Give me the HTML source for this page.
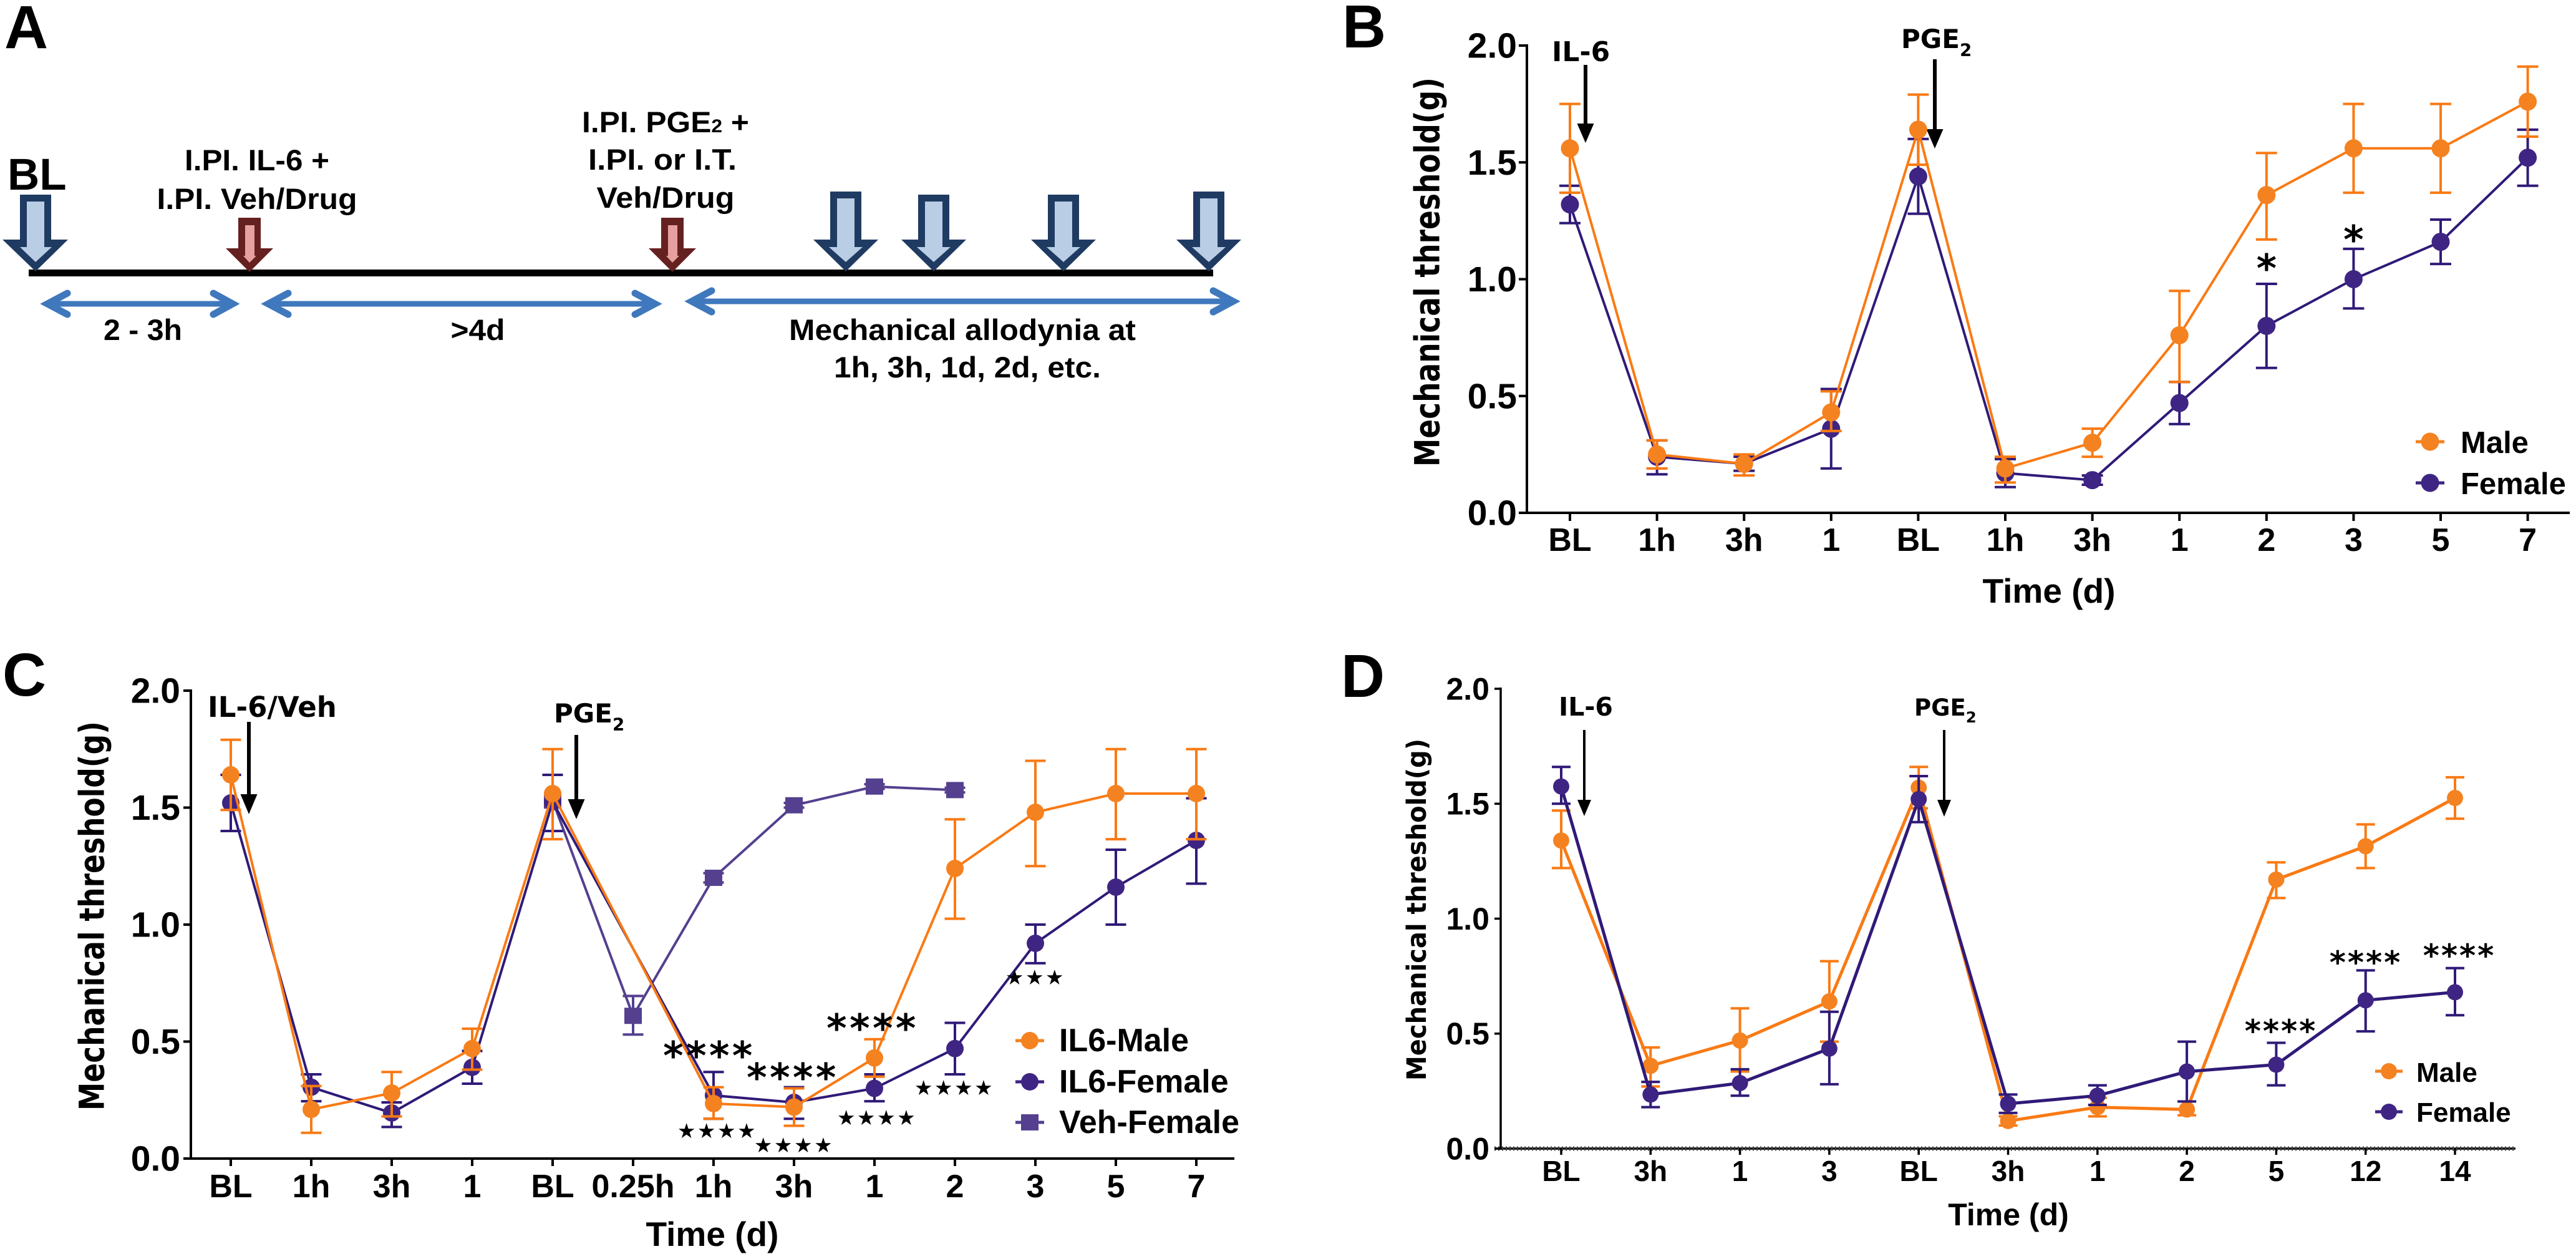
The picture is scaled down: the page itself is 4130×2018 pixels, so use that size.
<!DOCTYPE html>
<html lang="en">
<head>
<meta charset="utf-8">
<title>Mechanical threshold after IL-6 and PGE2 priming</title>
<style>
html,body{margin:0;padding:0;background:#fff;width:4130px;height:2018px;overflow:hidden}
svg{display:block}
text{font-family:"Liberation Sans",Arial,sans-serif;font-weight:bold;fill:#000}
</style>
</head>
<body>
<svg id="figure" xmlns="http://www.w3.org/2000/svg" width="4130" height="2018" viewBox="0 0 4130 2018">
<rect x="0" y="0" width="4130" height="2018" fill="#fff"/>
<g id="panel-a">
<text x="7" y="77" font-size="97">A</text>
<text x="12" y="304" font-size="71">BL</text>
<rect x="46" y="432" width="1899" height="11" fill="#000"/>
<g>
<polygon points="32,312 82,312 82,384 109,384 57,435 4,384 32,384" fill="#1f3b62"/>
<polygon points="43,323 71,323 71,396 83,396 57,420 32,396 43,396" fill="#b9cde5"/>
</g>
<g>
<polygon points="382,349 418,349 418,398 438,398 400,436 362,398 382,398" fill="#652120"/>
<polygon points="393,361 408,361 408,410 411,410 400,421 390,410 393,410" fill="#e6a0a0"/>
</g>
<g>
<polygon points="1060,349 1096,349 1096,398 1116,398 1078,436 1040,398 1060,398" fill="#652120"/>
<polygon points="1071,361 1086,361 1086,410 1089,410 1078,421 1068,410 1071,410" fill="#e6a0a0"/>
</g>
<g>
<polygon points="1331,307 1381,307 1381,384 1408,384 1356,435 1304,384 1331,384" fill="#1f3b62"/>
<polygon points="1342,318 1370,318 1370,396 1383,396 1356,420 1329,396 1342,396" fill="#b9cde5"/>
</g>
<g>
<polygon points="1472,312 1522,312 1522,384 1549,384 1497,435 1445,384 1472,384" fill="#1f3b62"/>
<polygon points="1483,323 1511,323 1511,396 1524,396 1497,420 1470,396 1483,396" fill="#b9cde5"/>
</g>
<g>
<polygon points="1680,312 1730,312 1730,384 1757,384 1705,435 1653,384 1680,384" fill="#1f3b62"/>
<polygon points="1691,323 1719,323 1719,396 1732,396 1705,420 1678,396 1691,396" fill="#b9cde5"/>
</g>
<g>
<polygon points="1913,307 1963,307 1963,384 1990,384 1938,435 1886,384 1913,384" fill="#1f3b62"/>
<polygon points="1924,318 1952,318 1952,396 1965,396 1938,420 1911,396 1924,396" fill="#b9cde5"/>
</g>
<g fill="none" stroke="#3f78bd">
<line x1="76" y1="487" x2="373" y2="487" stroke-width="9"/>
<polyline points="108,470 76,487 108,504" stroke-width="11" stroke-linecap="round"/>
<polyline points="342,470 373,487 342,504" stroke-width="11" stroke-linecap="round"/>
</g>
<g fill="none" stroke="#3f78bd">
<line x1="430" y1="487" x2="1050" y2="487" stroke-width="9"/>
<polyline points="462,470 430,487 462,504" stroke-width="11" stroke-linecap="round"/>
<polyline points="1018,470 1050,487 1018,504" stroke-width="11" stroke-linecap="round"/>
</g>
<g fill="none" stroke="#3f78bd">
<line x1="1109" y1="483" x2="1977" y2="483" stroke-width="9"/>
<polyline points="1141,466 1109,483 1141,500" stroke-width="11" stroke-linecap="round"/>
<polyline points="1945,466 1977,483 1945,500" stroke-width="11" stroke-linecap="round"/>
</g>
<g text-anchor="middle" font-size="47">
<text x="412" y="273" textLength="232" lengthAdjust="spacingAndGlyphs">I.PI. IL-6 +</text>
<text x="412" y="335" textLength="321" lengthAdjust="spacingAndGlyphs">I.PI. Veh/Drug</text>
<text x="1067" y="212" textLength="268" lengthAdjust="spacingAndGlyphs">I.PI. PGE<tspan font-size="30">2</tspan> +</text>
<text x="1062" y="272" textLength="238" lengthAdjust="spacingAndGlyphs">I.PI. or I.T.</text>
<text x="1067" y="333" textLength="221" lengthAdjust="spacingAndGlyphs">Veh/Drug</text>
<text x="229" y="545" textLength="126" lengthAdjust="spacingAndGlyphs">2 - 3h</text>
<text x="766" y="545" textLength="87" lengthAdjust="spacingAndGlyphs">&gt;4d</text>
<text x="1543" y="545" textLength="556" lengthAdjust="spacingAndGlyphs">Mechanical allodynia at</text>
<text x="1551" y="605" textLength="428" lengthAdjust="spacingAndGlyphs">1h, 3h, 1d, 2d, etc.</text>
</g>
</g>
</svg>
<script>
/* Shared axis ticks */
const yTickValues = [0, 0.5, 1, 1.5, 2];
const yTickLabels = ['0.0', '0.5', '1.0', '1.5', '2.0'];

/* Panel B data */
const panelBCategories = ['BL','1h','3h','1','BL','1h','3h','1','2','3','5','7'];
const panelBMale = [1.56,0.25,0.21,0.43,1.64,0.19,0.30,0.76,1.36,1.56,1.56,1.76];
const panelBMaleUpper = [1.75,0.31,0.25,0.52,1.79,0.24,0.36,0.95,1.54,1.75,1.75,1.91];
const panelBMaleLower = [1.37,0.19,0.16,0.35,1.49,0.13,0.24,0.56,1.17,1.37,1.37,1.61];
const panelBFemale = [1.32,0.24,0.21,0.36,1.44,0.17,0.14,0.47,0.80,1.00,1.16,1.52];
const panelBFemaleUpper = [1.40,0.31,0.24,0.53,1.60,0.23,0.16,0.56,0.98,1.13,1.255,1.64];
const panelBFemaleLower = [1.24,0.165,0.18,0.19,1.28,0.11,0.12,0.38,0.62,0.875,1.065,1.40];

/* Panel C data */
const panelCCategories = ['BL','1h','3h','1','BL','0.25h','1h','3h','1','2','3','5','7'];
const panelCMale = [1.64,0.21,0.28,0.47,1.56,null,0.235,0.22,0.43,1.24,1.48,1.56,1.56];
const panelCMaleUpper = [1.79,0.31,0.37,0.555,1.75,null,0.305,0.30,0.51,1.45,1.70,1.75,1.75];
const panelCMaleLower = [1.49,0.11,0.18,0.38,1.365,null,0.17,0.14,0.35,1.025,1.25,1.365,1.365];
const panelCFemale = [1.52,0.305,0.195,0.39,1.525,null,0.27,0.24,0.30,0.47,0.92,1.16,1.36];
const panelCFemaleUpper = [1.64,0.36,0.24,0.46,1.64,null,0.37,0.305,0.36,0.58,1.00,1.32,1.54];
const panelCFemaleLower = [1.40,0.245,0.135,0.32,1.40,null,0.17,0.17,0.245,0.36,0.835,1.00,1.175];
const panelCVehicle = [null,null,null,null,1.53,0.61,1.20,1.51,1.59,1.575,null,null,null];
const panelCVehicleUpper = [null,null,null,null,null,0.695,1.22,1.52,1.60,1.585,null,null,null];
const panelCVehicleLower = [null,null,null,null,null,0.53,1.18,1.50,1.58,1.565,null,null,null];

/* Panel D data */
const panelDCategories = ['BL','3h','1','3','BL','3h','1','2','5','12','14'];
const panelDMale = [1.34,0.36,0.47,0.64,1.57,0.12,0.18,0.17,1.17,1.315,1.525];
const panelDMaleUpper = [1.47,0.44,0.61,0.815,1.66,0.14,0.22,0.205,1.245,1.41,1.615];
const panelDMaleLower = [1.22,0.27,0.335,0.465,1.48,0.10,0.14,0.145,1.09,1.22,1.435];
const panelDFemale = [1.575,0.235,0.285,0.435,1.52,0.195,0.23,0.335,0.365,0.645,0.68];
const panelDFemaleUpper = [1.66,0.29,0.345,0.595,1.62,0.235,0.275,0.465,0.46,0.775,0.785];
const panelDFemaleLower = [1.50,0.18,0.23,0.28,1.42,0.155,0.19,0.205,0.275,0.51,0.58];

const SVG_NS = 'http://www.w3.org/2000/svg';
const ORANGE = '#f58220';
const ORANGE_LINE = '#f97a14';
const PURPLE = '#3f2583';
const PURPLE_LINE = '#301a78';
const VEH = '#54408f';
const figure = document.getElementById('figure');

function node(parent, tag, props, name, label) {
  const n = document.createElementNS(SVG_NS, tag);
  for (const k in props) n.setAttribute(k, props[k]);
  
  
  if (label !== undefined) n.textContent = label;
  parent.appendChild(n);
  return n;
}

function drawSeries(g, ax, s) {
  const sg = node(g, 'g', {}, s.name + '-series');
  const xOf = i => ax.x0 + i * ax.dx;
  const yOf = v => ax.y0 - v * (ax.y0 - ax.y2) / 2;
  const pts = [];
  s.values.forEach((v, i) => { if (v !== null) pts.push(xOf(i).toFixed(1) + ',' + yOf(v).toFixed(1)); });
  node(sg, 'polyline', {points: pts.join(' '), fill: 'none', stroke: s.line, 'stroke-width': ax.lineW}, s.name + '-line');
  s.values.forEach((v, i) => {
    if (v === null) return;
    const cx = xOf(i), cy = yOf(v);
    if (s.upper[i] !== null) {
      const up = yOf(s.upper[i]), lo = yOf(s.lower[i]);
      const hw = ax.cap;
      const d = 'M' + cx + ' ' + up + 'V' + lo + 'M' + (cx - hw) + ' ' + up + 'H' + (cx + hw) + 'M' + (cx - hw) + ' ' + lo + 'H' + (cx + hw);
      node(sg, 'path', {d: d, fill: 'none', stroke: s.line, 'stroke-width': 4}, s.name + '-error-bar');
    }
    if (s.square) {
      node(sg, 'rect', {x: cx - 14, y: cy - 13, width: 28, height: 26, fill: s.color}, s.name + '-point');
    } else {
      node(sg, 'circle', {cx: cx, cy: cy, r: ax.r, fill: s.color}, s.name + '-point');
    }
  });
}

function drawAxes(g, ax, cats) {
  const h = ax.y0 - ax.y2;
  node(g, 'line', {x1: ax.yx, y1: ax.y2 - 2, x2: ax.yx, y2: ax.y0 + 2, stroke: '#000', 'stroke-width': ax.axisW}, 'y-axis-line');
  node(g, 'line', {x1: ax.yx - ax.tick, y1: ax.y0, x2: ax.xEnd, y2: ax.y0, stroke: '#000', 'stroke-width': ax.axisW}, 'x-axis-line');
  if (ax.dotted) {
    node(g, 'line', {x1: ax.yx - ax.tick, y1: ax.y0, x2: ax.xEnd, y2: ax.y0, stroke: '#444', 'stroke-width': 7, 'stroke-dasharray': '2 4'}, 'x-axis-dotted-edge');
  }
  yTickValues.forEach((v, i) => {
    const y = ax.y0 - v * h / 2;
    node(g, 'line', {x1: ax.yx - ax.tick, y1: y, x2: ax.yx, y2: y, stroke: '#000', 'stroke-width': ax.axisW}, 'y-tick');
    node(g, 'text', {x: ax.yLabelX, y: y + 0.345 * ax.tickFont, 'text-anchor': 'end', 'font-size': ax.tickFont}, 'y-tick-label', yTickLabels[i]);
  });
  cats.forEach((c, i) => {
    const x = ax.x0 + i * ax.dx;
    node(g, 'line', {x1: x, y1: ax.y0, x2: x, y2: ax.y0 + ax.tick, stroke: '#000', 'stroke-width': ax.axisW}, 'x-tick');
    node(g, 'text', {x: x, y: ax.xLabelY, 'text-anchor': 'middle', 'font-size': ax.xFont}, 'x-tick-label', c);
  });
  const tb = ax.titleX + 0.26 * ax.titleFont;
  node(g, 'text', {
    transform: 'translate(' + tb + ' ' + ax.titleY + ') rotate(-90)',
    'text-anchor': 'middle', 'font-size': ax.titleFont,
    style: 'font-family:"DejaVu Sans",sans-serif',
    textLength: ax.titleLen, lengthAdjust: 'spacingAndGlyphs'
  }, 'y-axis-title', 'Mechanical threshold(g)');
  node(g, 'text', {x: ax.timeX, y: ax.timeY, 'text-anchor': 'middle', 'font-size': ax.timeFont}, 'x-axis-title', 'Time (d)');
}

function drawCallout(g, c) {
  const fam = 'font-family:"DejaVu Sans",sans-serif';
  const t = node(g, 'text', {x: c.tx, y: c.ty, 'font-size': c.font, style: fam}, c.name + '-label', c.label);
  if (c.sub) {
    const sub = document.createElementNS(SVG_NS, 'tspan');
    sub.setAttribute('dy', c.font * 0.3);
    sub.setAttribute('font-size', c.font * 0.66);
    sub.textContent = c.sub;
    t.appendChild(sub);
  }
  node(g, 'line', {x1: c.x, y1: c.y1, x2: c.x, y2: c.head, stroke: '#000', 'stroke-width': c.w}, c.name + '-arrow-shaft');
  node(g, 'polygon', {points: (c.x - c.hw) + ',' + c.head + ' ' + (c.x + c.hw) + ',' + c.head + ' ' + c.x + ',' + c.tip, fill: '#000'}, c.name + '-arrow-head');
}

function drawLegend(g, ax, l) {
  l.items.forEach(it => {
    const e = node(g, 'g', {}, 'legend-entry');
    node(e, 'line', {x1: l.x - l.hw, y1: it.y, x2: l.x + l.hw, y2: it.y, stroke: it.color, 'stroke-width': 5}, 'legend-line');
    if (it.square) {
      node(e, 'rect', {x: l.x - 14, y: it.y - 13, width: 28, height: 26, fill: it.color}, 'legend-marker');
    } else {
      node(e, 'circle', {cx: l.x, cy: it.y, r: ax.r, fill: it.color}, 'legend-marker');
    }
    node(e, 'text', {x: l.tx, y: it.by, 'font-size': l.font}, 'legend-label', it.label);
  });
}

function drawStars(g, list, glyph) {
  list.forEach(m => {
    node(g, 'text', {
      x: m.x, y: m.y + glyph.off, 'text-anchor': 'middle', 'font-size': glyph.font,
      style: 'font-family:"DejaVu Sans",sans-serif;letter-spacing:' + glyph.ls + 'px;font-weight:' + glyph.weight
    }, glyph.name, m.s);
  });
}

/* Panel B */
(function () {
  const g = node(figure, 'g', {}, 'panel-b-chart');
  node(g, 'text', {x: 2152, y: 76, 'font-size': 97}, 'panel-b-label', 'B');
  const ax = {x0: 2517, dx: 139.6, y0: 822, y2: 73, yx: 2448, xEnd: 4120, tick: 13, axisW: 4, lineW: 4, cap: 17, r: 14.5,
    tickFont: 57, xFont: 52, yLabelX: 2432, xLabelY: 883, titleX: 2293, titleY: 436, titleLen: 624, titleFont: 55,
    timeX: 3285, timeY: 966, timeFont: 55};
  drawAxes(g, ax, panelBCategories);
  drawCallout(g, {name: 'il6', label: 'IL-6', tx: 2488, ty: 98, font: 44, x: 2542, y1: 104, head: 198, tip: 229, hw: 13.5, w: 6});
  drawCallout(g, {name: 'pge2', label: 'PGE', sub: '2', tx: 3048, ty: 77, font: 42, x: 3102, y1: 95, head: 207, tip: 238, hw: 13.5, w: 6});
  drawSeries(g, ax, {name: 'female', values: panelBFemale, upper: panelBFemaleUpper, lower: panelBFemaleLower, color: PURPLE, line: PURPLE_LINE});
  drawSeries(g, ax, {name: 'male', values: panelBMale, upper: panelBMaleUpper, lower: panelBMaleLower, color: ORANGE, line: ORANGE_LINE});
  drawStars(g, [{x: 2517 + 8 * 139.6, y: 420, s: '*'}, {x: 2517 + 9 * 139.6, y: 374, s: '*'}],
    {font: 62, ls: 0, off: 32, weight: 'bold', name: 'significance-asterisk'});
  drawLegend(g, ax, {x: 3896, hw: 23, tx: 3945, font: 49, items: [
    {y: 708, by: 726, color: ORANGE, label: 'Male'},
    {y: 774, by: 792, color: PURPLE, label: 'Female'}]});
})();

/* Panel C */
(function () {
  const g = node(figure, 'g', {}, 'panel-c-chart');
  node(g, 'text', {x: 4, y: 1115, 'font-size': 97}, 'panel-c-label', 'C');
  const ax = {x0: 370, dx: 129, y0: 1857, y2: 1107, yx: 306, xEnd: 1979, tick: 12, axisW: 4, lineW: 4, cap: 16.5, r: 14,
    tickFont: 57, xFont: 52, yLabelX: 289, xLabelY: 1919, titleX: 152, titleY: 1468, titleLen: 624, titleFont: 55,
    timeX: 1142, timeY: 1997, timeFont: 55};
  drawAxes(g, ax, panelCCategories);
  drawCallout(g, {name: 'il6-veh', label: 'IL-6/Veh', tx: 333, ty: 1149, font: 45, x: 399, y1: 1157, head: 1273, tip: 1305, hw: 13.5, w: 6});
  drawCallout(g, {name: 'pge2', label: 'PGE', sub: '2', tx: 888, ty: 1158, font: 42, x: 924, y1: 1178, head: 1281, tip: 1313, hw: 13.5, w: 6});
  drawSeries(g, ax, {name: 'veh-female', values: panelCVehicle, upper: panelCVehicleUpper, lower: panelCVehicleLower, color: VEH, line: VEH, square: true});
  drawSeries(g, ax, {name: 'il6-female', values: panelCFemale, upper: panelCFemaleUpper, lower: panelCFemaleLower, color: PURPLE, line: PURPLE_LINE});
  drawSeries(g, ax, {name: 'il6-male', values: panelCMale, upper: panelCMaleUpper, lower: panelCMaleLower, color: ORANGE, line: ORANGE_LINE});
  drawStars(g, [{x: 1137, y: 1682, s: '****'}, {x: 1271, y: 1717, s: '****'}, {x: 1399, y: 1638, s: '****'}],
    {font: 62, ls: 4.5, off: 32, weight: 'bold', name: 'significance-asterisks-male'});
  drawStars(g, [{x: 1150, y: 1812, s: '★★★★'}, {x: 1273, y: 1835, s: '★★★★'}, {x: 1406, y: 1791, s: '★★★★'}, {x: 1530, y: 1743, s: '★★★★'}, {x: 1660, y: 1566, s: '★★★'}],
    {font: 33, ls: 2.5, off: 12, weight: 'normal', name: 'significance-stars-female'});
  drawLegend(g, ax, {x: 1651, hw: 23, tx: 1698, font: 52, items: [
    {y: 1668, by: 1685, color: ORANGE, label: 'IL6-Male'},
    {y: 1734, by: 1751, color: PURPLE, label: 'IL6-Female'},
    {y: 1799, by: 1816, color: VEH, label: 'Veh-Female', square: true}]});
})();

/* Panel D */
(function () {
  const g = node(figure, 'g', {}, 'panel-d-chart');
  node(g, 'text', {x: 2150, y: 1117, 'font-size': 97}, 'panel-d-label', 'D');
  const ax = {x0: 2503, dx: 143.3, y0: 1841, y2: 1104, yx: 2406, xEnd: 4033, tick: 10, axisW: 3.5, lineW: 5, cap: 15, r: 13, dotted: true,
    tickFont: 50, xFont: 46, yLabelX: 2388, xLabelY: 1893, titleX: 2275, titleY: 1458, titleLen: 548, titleFont: 43,
    timeX: 3220, timeY: 1964, timeFont: 50};
  drawAxes(g, ax, panelDCategories);
  drawCallout(g, {name: 'il6', label: 'IL-6', tx: 2499, ty: 1147, font: 41, x: 2540, y1: 1170, head: 1282, tip: 1308, hw: 11, w: 4});
  drawCallout(g, {name: 'pge2', label: 'PGE', sub: '2', tx: 3069, ty: 1147, font: 37, x: 3117, y1: 1170, head: 1282, tip: 1309, hw: 11, w: 4});
  drawSeries(g, ax, {name: 'male', values: panelDMale, upper: panelDMaleUpper, lower: panelDMaleLower, color: ORANGE, line: ORANGE_LINE});
  drawSeries(g, ax, {name: 'female', values: panelDFemale, upper: panelDFemaleUpper, lower: panelDFemaleLower, color: PURPLE, line: PURPLE_LINE});
  drawStars(g, [{x: 3657, y: 1644, s: '****'}, {x: 3793, y: 1534, s: '****'}, {x: 3943, y: 1523, s: '****'}],
    {font: 50, ls: 3, off: 26, weight: 'bold', name: 'significance-asterisks'});
  drawLegend(g, ax, {x: 3830, hw: 22, tx: 3874, font: 44, items: [
    {y: 1717, by: 1734, color: ORANGE, label: 'Male'},
    {y: 1782, by: 1798, color: PURPLE, label: 'Female'}]});
})();
</script>
</body>
</html>
